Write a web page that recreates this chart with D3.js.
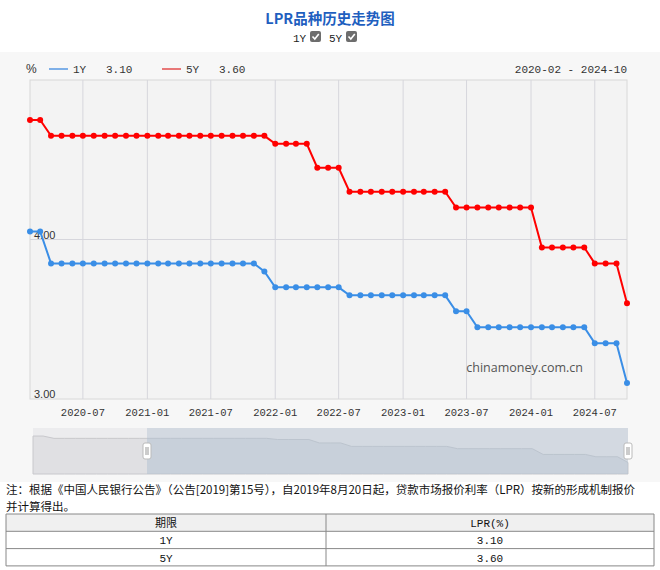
<!DOCTYPE html>
<html><head><meta charset="utf-8">
<script src="https://cdn.jsdelivr.net/npm/d3@7"></script>
<style>
body{margin:0;background:#fff;font-family:"Noto Sans CJK SC","Liberation Sans",sans-serif;}
svg{display:block}
</style></head>
<body><svg id="c" width="660" height="570"></svg>
<script>
const months = ["2020-02","2020-03","2020-04","2020-05","2020-06","2020-07","2020-08","2020-09","2020-10","2020-11","2020-12",
"2021-01","2021-02","2021-03","2021-04","2021-05","2021-06","2021-07","2021-08","2021-09","2021-10","2021-11","2021-12",
"2022-01","2022-02","2022-03","2022-04","2022-05","2022-06","2022-07","2022-08","2022-09","2022-10","2022-11","2022-12",
"2023-01","2023-02","2023-03","2023-04","2023-05","2023-06","2023-07","2023-08","2023-09","2023-10","2023-11","2023-12",
"2024-01","2024-02","2024-03","2024-04","2024-05","2024-06","2024-07","2024-08","2024-09","2024-10"];
const lpr1Y = [4.05,4.05,3.85,3.85,3.85,3.85,3.85,3.85,3.85,3.85,3.85,
3.85,3.85,3.85,3.85,3.85,3.85,3.85,3.85,3.85,3.85,3.85,3.80,
3.70,3.70,3.70,3.70,3.70,3.70,3.70,3.65,3.65,3.65,3.65,3.65,
3.65,3.65,3.65,3.65,3.65,3.55,3.55,3.45,3.45,3.45,3.45,3.45,
3.45,3.45,3.45,3.45,3.45,3.45,3.35,3.35,3.35,3.10];
const lpr5Y = [4.75,4.75,4.65,4.65,4.65,4.65,4.65,4.65,4.65,4.65,4.65,
4.65,4.65,4.65,4.65,4.65,4.65,4.65,4.65,4.65,4.65,4.65,4.65,
4.60,4.60,4.60,4.60,4.45,4.45,4.45,4.30,4.30,4.30,4.30,4.30,
4.30,4.30,4.30,4.30,4.30,4.20,4.20,4.20,4.20,4.20,4.20,4.20,
4.20,3.95,3.95,3.95,3.95,3.95,3.85,3.85,3.85,3.60];
const xTicks = ["2020-07","2021-01","2021-07","2022-01","2022-07","2023-01","2023-07","2024-01","2024-07"];
const yTicks = [3.00, 4.00];
const tableRows = [["1Y","3.10"],["5Y","3.60"]];
const noteLines = ["注：根据《中国人民银行公告》（公告[2019]第15号），自2019年8月20日起，贷款市场报价利率（LPR）按新的形成机制报价","并计算得出。"];

const svg = d3.select("#c");
const L=30, R=627, T=80, B=399;
const parse = d3.timeParse("%Y-%m");
const x = d3.scaleTime().domain([parse(months[0]), parse(months[months.length-1])]).range([L,R]);
const y = d3.scaleLinear().domain([3,5]).range([B,T]);
const mono = "'Liberation Mono','DejaVu Sans Mono',monospace";

// chart background
svg.append("rect").attr("x",0).attr("y",0).attr("width",660).attr("height",482).attr("fill","#f7f7f7");
svg.append("rect").attr("x",0).attr("y",0).attr("width",660).attr("height",52).attr("fill","#fff");
svg.append("rect").attr("x",L).attr("y",T).attr("width",R-L).attr("height",B-T)
  .attr("fill","#f3f3f3").attr("stroke","#d8d8d8");

// title
svg.append("text").attr("x",330).attr("y",24).attr("text-anchor","middle")
  .attr("font-size",14.5).attr("font-weight","bold").attr("fill","#1f5fbf")
  .attr("font-family","'Noto Sans CJK SC',sans-serif").text("LPR品种历史走势图");
function checkbox(xp,label){
  svg.append("text").attr("x",xp).attr("y",42).attr("font-size",11).attr("font-family",mono).attr("fill","#222").text(label);
  const g = svg.append("g").attr("transform",`translate(${xp+17},31)`);
  g.append("rect").attr("width",11).attr("height",11).attr("rx",2).attr("fill","#6d6d6d");
  g.append("path").attr("d","M2.5,5.5 L4.8,8 L8.8,3").attr("stroke","#fff").attr("stroke-width",1.6).attr("fill","none");
}
checkbox(293,"1Y"); checkbox(329,"5Y");

// legend
svg.append("text").attr("x",26).attr("y",73).attr("font-size",12).attr("fill","#333").attr("font-family","'Liberation Sans',sans-serif").text("%");
function legend(xp,color,label,val){
  svg.append("line").attr("x1",xp).attr("x2",xp+19).attr("y1",69).attr("y2",69).attr("stroke",color).attr("stroke-width",2);
  svg.append("text").attr("x",xp+24).attr("y",73).attr("font-size",11).attr("font-family",mono).attr("fill","#333").text(label);
  svg.append("text").attr("x",xp+57).attr("y",73).attr("font-size",11).attr("font-family",mono).attr("fill","#333").text(val);
}
legend(49,"#7fb0e8","1Y",lpr1Y[lpr1Y.length-1].toFixed(2));
legend(162,"#e87878","5Y",lpr5Y[lpr5Y.length-1].toFixed(2));
svg.append("text").attr("x",627).attr("y",73).attr("text-anchor","end").attr("font-size",11).attr("font-family",mono).attr("fill","#333")
  .text(months[0]+" - "+months[months.length-1]);

// grid
svg.append("g").selectAll("line").data(xTicks).join("line")
  .attr("x1",d=>x(parse(d))).attr("x2",d=>x(parse(d))).attr("y1",T).attr("y2",B).attr("stroke","#d6d6dc");
svg.append("g").selectAll("line").data([4.00]).join("line")
  .attr("x1",L).attr("x2",R).attr("y1",d=>y(d)).attr("y2",d=>y(d)).attr("stroke","#d6d6dc");
svg.append("g").selectAll("text").data(yTicks).join("text")
  .attr("x",L+4).attr("y",d=>y(d)-1).attr("font-size",11).attr("font-family","'Liberation Sans',sans-serif").attr("fill","#333")
  .text(d=>d.toFixed(2));
svg.append("g").selectAll("text").data(xTicks).join("text")
  .attr("x",d=>x(parse(d))).attr("y",416).attr("text-anchor","middle").attr("font-size",10.5).attr("font-family",mono).attr("fill","#333")
  .text(d=>d);

// watermark
svg.append("text").attr("x",583).attr("y",372).attr("text-anchor","end").attr("font-size",12.5)
  .attr("font-family","'Open Sans',sans-serif").attr("fill","#555").text("chinamoney.com.cn");

// series
function series(vals,color){
  const pts = vals.map((v,i)=>[x(parse(months[i])),y(v)]);
  svg.append("path").attr("d",d3.line()(pts)).attr("fill","none").attr("stroke",color).attr("stroke-width",2);
  svg.append("g").selectAll("circle").data(pts).join("circle").attr("cx",d=>d[0]).attr("cy",d=>d[1]).attr("r",3).attr("fill",color);
}
series(lpr5Y,"#ff0000");
series(lpr1Y,"#3a8ee6");

// slider / navigator
const sT=428, sB=474, sL=33, sR=628;
const xs = d3.scaleTime().domain(x.domain()).range([sL,sR]);
const ys = d3.scaleLinear().domain([3.1,5.1]).range([sB,sT]);
svg.append("rect").attr("x",sL).attr("y",sT).attr("width",sR-sL).attr("height",sB-sT).attr("fill","#ececee");
const area = d3.area().x((d,i)=>xs(parse(months[i]))).y0(sB).y1(d=>ys(d));
const hx = 147;
svg.append("path").attr("d",area(lpr5Y)).attr("fill","#e0e0e3").attr("stroke","#c8c8cc");
svg.append("rect").attr("x",hx).attr("y",sT).attr("width",sR-hx).attr("height",sB-sT).attr("fill","#d3d9e1");
svg.append("defs").append("clipPath").attr("id","cp").append("rect").attr("x",hx).attr("y",sT).attr("width",sR-hx).attr("height",sB-sT);
svg.append("path").attr("d",area(lpr5Y)).attr("fill","#c8d0da").attr("stroke","#bcc4ce").attr("clip-path","url(#cp)");
[hx,sR].forEach(h=>{
  svg.append("rect").attr("x",h-4).attr("y",443).attr("width",8).attr("height",16).attr("rx",2).attr("fill","#fff").attr("stroke","#bbb");
  svg.append("line").attr("x1",h-1).attr("x2",h-1).attr("y1",447).attr("y2",455).attr("stroke","#999");
  svg.append("line").attr("x1",h+1).attr("x2",h+1).attr("y1",447).attr("y2",455).attr("stroke","#999");
});

// note
const cjk = "'Noto Sans CJK SC',sans-serif";
svg.append("g").selectAll("text").data(noteLines).join("text")
  .attr("x",6).attr("y",(d,i)=>494+i*17).attr("font-size",11.5).attr("font-family",cjk).attr("fill","#111")
  .text(d=>d);

// table
const tL=6, tM=326, tR=654, rowH=17.3, tT=514;
const rows = [["期限","LPR(%)"]].concat(tableRows);
rows.forEach((r,i)=>{
  const yy = tT+i*rowH;
  svg.append("rect").attr("x",tL).attr("y",yy).attr("width",tR-tL).attr("height",rowH).attr("fill",i===0?"#f0f0f0":"#fff");
  svg.append("text").attr("x",(tL+tM)/2).attr("y",yy+13).attr("text-anchor","middle").attr("font-size",11)
    .attr("font-family",i===0?cjk:mono).attr("fill","#111").text(r[0]);
  svg.append("text").attr("x",(tM+tR)/2).attr("y",yy+13).attr("text-anchor","middle").attr("font-size",11)
    .attr("font-family",mono).attr("fill","#111").text(r[1]);
});
svg.append("g").selectAll("line").data(d3.range(rows.length+1)).join("line")
  .attr("x1",tL).attr("x2",tR).attr("y1",i=>tT+i*rowH).attr("y2",i=>tT+i*rowH).attr("stroke","#888");
[tL,tM,tR].forEach(xx=>svg.append("line").attr("x1",xx).attr("x2",xx).attr("y1",tT).attr("y2",tT+rows.length*rowH).attr("stroke","#888"));
</script></body></html>
